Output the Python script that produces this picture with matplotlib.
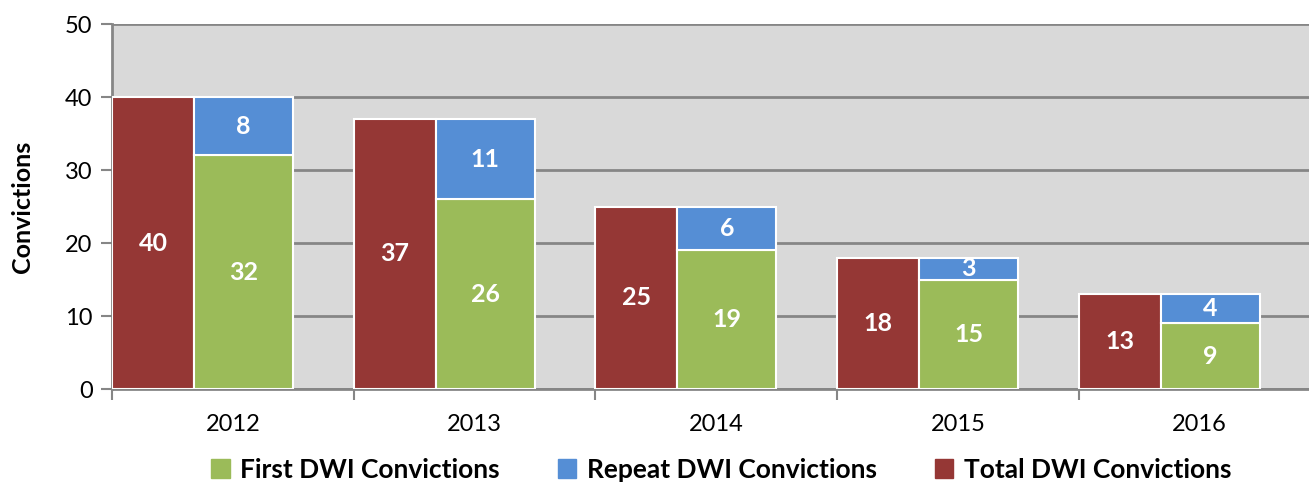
import matplotlib.pyplot as plt
from matplotlib.patches import Patch
import numpy as np

years = ["2012", "2013", "2014", "2015", "2016"]
first = [32, 26, 19, 15, 9]
repeat = [8, 11, 6, 3, 4]
total = [40, 37, 25, 18, 13]

c_first = "#9BBB59"
c_repeat = "#558ED5"
c_total = "#953735"
grid_c = "#868686"

plt.rcParams['font.family'] = ['Lato', 'DejaVu Sans']

fig = plt.figure(figsize=(13.09, 4.87), dpi=100)
ax = fig.add_axes([0.0856, 0.2012, 0.9144, 0.7495])
ax.set_facecolor("#D9D9D9")

x = np.arange(len(years))
wt = 0.339
ws = 0.41
xt = x - 0.5 + wt / 2
xs = x - 0.5 + wt + ws / 2

ax.bar(xt, total, wt, color=c_total, edgecolor="white", linewidth=1.5, zorder=3)
ax.bar(xs, first, ws, color=c_first, edgecolor="white", linewidth=1.5, zorder=3)
ax.bar(xs, repeat, ws, bottom=first, color=c_repeat, edgecolor="white", linewidth=1.5, zorder=3)

lab = dict(color="white", fontsize=18, fontweight="bold", ha="center", va="center", zorder=4)
for i in range(len(years)):
    ax.text(xt[i], total[i] / 2, str(total[i]), **lab)
    ax.text(xs[i], first[i] / 2, str(first[i]), **lab)
    ax.text(xs[i], first[i] + repeat[i] / 2, str(repeat[i]), **lab)

ax.set_ylim(0, 50)
ax.set_xlim(-0.5, -0.5 + 1197 / 241.7)
ax.set_yticks(range(0, 51, 10))
ax.yaxis.grid(True, color=grid_c, linewidth=2, zorder=1)
ax.set_axisbelow(True)

ax.set_xticks(x)
ax.set_xticklabels(years)
ax.set_xticks(np.arange(len(years)) - 0.5, minor=True)
ax.tick_params(axis="x", which="major", length=0, pad=18, labelsize=17)
ax.tick_params(axis="x", which="minor", length=8, width=1.5, color=grid_c)
ax.tick_params(axis="y", length=8, width=1.5, color=grid_c, labelsize=17, pad=6)

for s in ["top", "right"]:
    ax.spines[s].set_visible(False)
for s in ["left", "bottom"]:
    ax.spines[s].set_color(grid_c)
    ax.spines[s].set_linewidth(2)

ax.set_ylabel("Convictions", fontsize=18, fontweight="bold", labelpad=22)

handles = [Patch(color=c_first), Patch(color=c_repeat), Patch(color=c_total)]
fig.legend(handles, ["First DWI Convictions", "Repeat DWI Convictions", "Total DWI Convictions"],
           loc="center", bbox_to_anchor=(0.551, 0.035), ncol=3, frameon=False,
           prop={"size": 19, "weight": "bold"}, handlelength=0.7, handleheight=0.7,
           handletextpad=0.4, columnspacing=2.2)

fig.savefig("out.png", dpi=100)
